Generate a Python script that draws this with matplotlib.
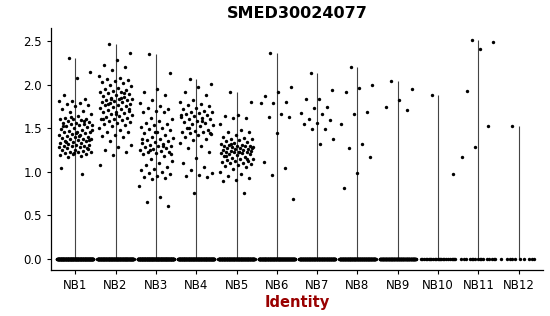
import numpy as np
from matplotlib import pyplot as plt

gene = 'SMED30024077'
groups = ['NB1', 'NB2', 'NB3', 'NB4', 'NB5', 'NB6', 'NB7', 'NB8', 'NB9', 'NB10', 'NB11', 'NB12']

# non-zero expression values per group
nb1 = [2.30, 2.14, 2.07, 1.88, 1.84, 1.81, 1.81, 1.79, 1.78, 1.76, 1.75, 1.72, 1.70, 1.68, 1.66,
       1.64, 1.62, 1.61, 1.60, 1.60, 1.59, 1.58, 1.57, 1.56, 1.56, 1.55, 1.55, 1.54, 1.53, 1.52,
       1.51, 1.50, 1.49, 1.48, 1.47, 1.46, 1.45, 1.45, 1.44, 1.43, 1.42, 1.42, 1.41, 1.40, 1.40,
       1.39, 1.38, 1.38, 1.37, 1.36, 1.35, 1.35, 1.34, 1.33, 1.33, 1.32, 1.31, 1.31, 1.30, 1.30,
       1.29, 1.28, 1.28, 1.27, 1.26, 1.25, 1.25, 1.24, 1.23, 1.22, 1.22, 1.21, 1.20, 1.20, 1.19,
       1.18, 1.17, 1.36, 1.44, 1.52, 1.58, 1.63, 1.48, 1.41, 1.34, 1.27, 1.21, 1.04, 0.97]
nb2 = [2.47, 2.36, 2.28, 2.22, 2.20, 2.17, 2.10, 2.08, 2.06, 2.05, 2.04, 2.03, 2.02, 2.00, 1.98,
       1.96, 1.95, 1.94, 1.93, 1.92, 1.91, 1.90, 1.89, 1.88, 1.87, 1.86, 1.85, 1.84, 1.83, 1.82,
       1.82, 1.81, 1.80, 1.80, 1.79, 1.78, 1.77, 1.76, 1.75, 1.74, 1.73, 1.72, 1.71, 1.70, 1.69,
       1.68, 1.67, 1.66, 1.65, 1.64, 1.63, 1.62, 1.61, 1.60, 1.59, 1.58, 1.57, 1.56, 1.55, 1.54,
       1.52, 1.50, 1.48, 1.46, 1.45, 1.42, 1.41, 1.40, 1.35, 1.31, 1.28, 1.25, 1.22, 1.19, 1.08,
       1.85, 1.78, 1.72, 1.66, 1.60, 1.90, 1.83]
nb3 = [2.35, 2.13, 1.95, 1.92, 1.88, 1.82, 1.79, 1.75, 1.73, 1.72, 1.70, 1.69, 1.68, 1.62, 1.60,
       1.58, 1.56, 1.55, 1.53, 1.51, 1.50, 1.49, 1.48, 1.46, 1.44, 1.42, 1.40, 1.39, 1.38, 1.36,
       1.35, 1.34, 1.33, 1.32, 1.31, 1.30, 1.29, 1.28, 1.27, 1.26, 1.25, 1.24, 1.23, 1.22, 1.21,
       1.20, 1.18, 1.15, 1.12, 1.10, 1.08, 1.05, 1.03, 1.02, 1.00, 0.98, 0.97, 0.95, 0.94, 0.93,
       0.92, 0.84, 0.71, 0.65, 0.61, 1.45, 1.37, 1.30, 1.25, 1.20]
nb4 = [2.06, 2.01, 1.97, 1.91, 1.88, 1.82, 1.80, 1.78, 1.76, 1.75, 1.73, 1.72, 1.70, 1.69, 1.68,
       1.67, 1.66, 1.65, 1.64, 1.63, 1.62, 1.61, 1.60, 1.58, 1.57, 1.56, 1.55, 1.54, 1.52, 1.50,
       1.48, 1.47, 1.46, 1.45, 1.44, 1.43, 1.42, 1.40, 1.38, 1.36, 1.33, 1.30, 1.27, 1.22, 1.16,
       1.10, 1.05, 1.02, 0.98, 0.96, 0.95, 0.94, 0.75, 1.65, 1.58, 1.50, 1.44]
nb5 = [1.91, 1.80, 1.65, 1.64, 1.62, 1.62, 1.55, 1.48, 1.46, 1.45, 1.42, 1.40, 1.39, 1.38, 1.37,
       1.36, 1.35, 1.34, 1.33, 1.32, 1.31, 1.31, 1.30, 1.30, 1.29, 1.29, 1.28, 1.28, 1.27, 1.27,
       1.26, 1.26, 1.25, 1.25, 1.24, 1.24, 1.23, 1.23, 1.22, 1.22, 1.21, 1.21, 1.20, 1.20, 1.19,
       1.18, 1.17, 1.16, 1.15, 1.14, 1.13, 1.12, 1.12, 1.11, 1.10, 1.10, 1.09, 1.08, 1.06, 1.05,
       1.03, 1.00, 0.97, 0.95, 0.93, 0.90, 0.89, 0.76, 1.32, 1.27, 1.22, 1.18, 1.14]
nb6 = [2.36, 1.97, 1.92, 1.87, 1.80, 1.79, 1.79, 1.66, 1.63, 1.63, 1.44, 1.11, 1.04, 0.96, 0.69]
nb7 = [2.13, 1.94, 1.84, 1.83, 1.74, 1.73, 1.67, 1.66, 1.60, 1.59, 1.56, 1.55, 1.49, 1.49, 1.38, 1.32]
nb8 = [2.20, 2.00, 1.96, 1.92, 1.69, 1.66, 1.55, 1.32, 1.27, 1.17, 0.98, 0.81]
nb9 = [2.04, 1.95, 1.82, 1.74, 1.71]
nb10 = [1.88, 0.97]
nb11 = [2.51, 2.49, 2.41, 1.93, 1.52, 1.28, 1.17]
nb12 = [1.52]
expr = [nb1, nb2, nb3, nb4, nb5, nb6, nb7, nb8, nb9, nb10, nb11, nb12]

# number of cells with zero expression in each group
zero_counts = [260, 240, 260, 240, 220, 220, 200, 200, 160, 24, 16, 10]


def spread(n, width):
    # deterministic jitter using golden-ratio sequence
    return ((np.arange(n) * 0.6180339887 + 0.31) % 1.0 - 0.5) * 2 * width


fig = plt.figure(figsize=(5.5, 3.16), dpi=100)
ax = fig.add_axes([51 / 550, 1 - 270 / 316, 492 / 550, 242 / 316])

for i, (vals, nz) in enumerate(zip(expr, zero_counts)):
    pos = i + 1
    vals = np.array(vals)
    ax.vlines(pos, 0, vals.max(), color='#444444', lw=0.8, zorder=1)
    ax.scatter(pos + spread(len(vals), 0.42), vals, s=6, c='black', lw=0, zorder=2)
    ax.scatter(pos + spread(nz, 0.45), np.zeros(nz), s=6, c='black', lw=0, zorder=2)

ax.set_xlim(0.4, 12.6)
ax.set_ylim(-0.13, 2.65)
ax.set_xticks(range(1, len(groups) + 1))
ax.set_xticklabels(groups)
ax.set_yticks([0, 0.5, 1.0, 1.5, 2.0, 2.5])
ax.set_yticklabels(['0.0', '0.5', '1.0', '1.5', '2.0', '2.5'])
ax.tick_params(labelsize=8.5, colors='black', length=3, width=0.8)
ax.spines['top'].set_visible(False)
ax.spines['right'].set_visible(False)
for s in ['left', 'bottom']:
    ax.spines[s].set_linewidth(0.9)

ax.set_xlabel('Identity', fontsize=10.5, fontweight='bold', color='#990000', labelpad=2)
fig.suptitle(gene, x=297 / 550, y=1 - 6 / 316, va='top', fontsize=11.5, fontweight='bold')

fig.savefig('out.png', dpi=100)
